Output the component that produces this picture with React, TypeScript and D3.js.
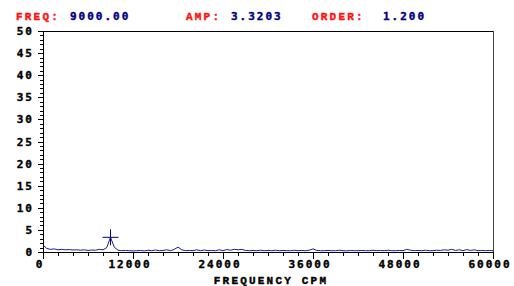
import React from "react";
import * as d3 from "d3";

const FREQ_STEP = 500;
const AMPLITUDES = [
  1.6, 0.8, 0.6, 0.7, 0.5, 0.6, 0.5, 0.55, 0.45, 0.5, 0.4, 0.5, 0.35, 0.45, 0.4, 0.6, 0.5, 1.0, 3.32, 1.1,
  0.4, 0.3, 0.35, 0.3, 0.25, 0.3, 0.35, 0.25, 0.4, 0.3, 0.45, 0.3, 0.35, 0.5, 0.3, 0.6, 1.1, 0.5, 0.3, 0.35,
  0.3, 0.5, 0.3, 0.45, 0.3, 0.35, 0.3, 0.5, 0.3, 0.55, 0.4, 0.6, 0.5, 0.6, 0.35, 0.3, 0.35, 0.3, 0.4, 0.3,
  0.35, 0.3, 0.4, 0.3, 0.35, 0.3, 0.3, 0.4, 0.3, 0.35, 0.3, 0.4, 0.7, 0.35, 0.3, 0.3, 0.35, 0.3, 0.3, 0.4,
  0.3, 0.25, 0.35, 0.3, 0.3, 0.35, 0.3, 0.3, 0.4, 0.3, 0.35, 0.3, 0.4, 0.3, 0.3, 0.35, 0.3, 0.6, 0.4, 0.3,
  0.35, 0.3, 0.4, 0.3, 0.3, 0.4, 0.35, 0.5, 0.4, 0.6, 0.35, 0.5, 0.3, 0.55, 0.35, 0.5, 0.3, 0.35, 0.3, 0.35,
  0.3,
];
const X_TICKS = [0, 12000, 24000, 36000, 48000, 60000];
const X_MINOR_STEP = 2000;
const Y_TICKS = [0, 5, 10, 15, 20, 25, 30, 35, 40, 45, 50];
const Y_MINOR_STEP = 1;
const MARKER_FREQ = 9000;
const MARKER_AMP = 3.3203;
const HEADER = [
  { label: "FREQ:", value: "9000.00", lx: 16, vx: 70 },
  { label: "AMP:", value: "3.3203", lx: 186, vx: 231 },
  { label: "ORDER:", value: "1.200", lx: 312, vx: 383 },
];

const W = 514, H = 286;
const L = 43, R = 493, T = 31, B = 252;
const NAVY = "#000080";
const LINE_BLUE = "#1a1a99";
const RED = "#ff1010";
const LETTER_FONT = "'Liberation Mono', monospace";
const NUM_FONT = "'DejaVu Sans Mono', monospace";
const thick = (c: string) => ({ stroke: c, strokeWidth: 0.4 });

export default function App() {
  const x = d3.scaleLinear().domain([0, 60000]).range([L, R]);
  const y = d3.scaleLinear().domain([0, 50]).range([B, T]);
  const line = d3
    .line<number>()
    .x((_, i) => x(i * FREQ_STEP))
    .y((d) => y(d));
  const xMinor = d3.range(0, 60000 + 1, X_MINOR_STEP);
  const yMinor = d3.range(0, 50 + 0.001, Y_MINOR_STEP);
  const mx = x(MARKER_FREQ), my = y(MARKER_AMP);

  return (
    <svg width={W} height={H} style={{ position: "fixed", left: 0, top: 0, background: "#fff" }}>
      <rect x={0} y={0} width={W} height={H} fill="#fff" />
      {HEADER.map((h) => (
        <g key={h.label} fontWeight="bold" fontSize={11}>
          <text x={h.lx} y={20} fill={RED} {...thick(RED)} fontFamily={LETTER_FONT} letterSpacing={2.2}>{h.label}</text>
          <text x={h.vx} y={20} fill={NAVY} {...thick(NAVY)} fontFamily={NUM_FONT} letterSpacing={2}>{h.value}</text>
        </g>
      ))}
      {/* frame */}
      <line x1={L} x2={R} y1={T + 0.5} y2={T + 0.5} stroke="#000" />
      <line x1={R + 0.5} x2={R + 0.5} y1={T} y2={B} stroke="#444" />
      <line x1={L + 0.5} x2={L + 0.5} y1={T} y2={B + 1} stroke="#000" />
      <line x1={L} x2={R + 1} y1={B + 0.5} y2={B + 0.5} stroke="#000" />
      {/* y ticks */}
      {yMinor.map((v) => (
        <line key={"ym" + v} x1={L - 3} x2={L} y1={Math.round(y(v)) + 0.5} y2={Math.round(y(v)) + 0.5} stroke="#000" />
      ))}
      {Y_TICKS.map((v) => (
        <g key={"y" + v}>
          <line x1={L - 5} x2={L} y1={Math.round(y(v)) + 0.5} y2={Math.round(y(v)) + 0.5} stroke="#000" />
          <text x={34} y={y(v) + 4} textAnchor="end" fontFamily={NUM_FONT} fontWeight="bold" fontSize={11} letterSpacing={2} fill="#000" {...thick("#000")}>{v}</text>
        </g>
      ))}
      {/* x ticks */}
      {xMinor.map((v) => (
        <line key={"xm" + v} x1={Math.round(x(v)) + 0.5} x2={Math.round(x(v)) + 0.5} y1={B} y2={B + 4} stroke="#000" />
      ))}
      {X_TICKS.map((v) => (
        <g key={"x" + v}>
          <line x1={Math.round(x(v)) + 0.5} x2={Math.round(x(v)) + 0.5} y1={B} y2={B + 7} stroke="#000" />
          <text x={x(v) - 3} y={268} textAnchor="middle" fontFamily={NUM_FONT} fontWeight="bold" fontSize={11} letterSpacing={2} fill="#000" {...thick("#000")}>{v}</text>
        </g>
      ))}
      <text x={(L + R) / 2 + 3} y={284} textAnchor="middle" fontFamily={LETTER_FONT} fontWeight="bold" fontSize={11} letterSpacing={2.2} fill="#000" {...thick("#000")}>FREQUENCY CPM</text>
      {/* spectrum */}
      <path d={line(AMPLITUDES) || ""} fill="none" stroke={LINE_BLUE} strokeWidth={1} />
      {/* marker */}
      <line x1={mx - 8} x2={mx + 8} y1={my} y2={my} stroke={NAVY} strokeWidth={1} />
      <line x1={mx} x2={mx} y1={my - 8} y2={my + 8} stroke={NAVY} strokeWidth={1} />
    </svg>
  );
}
